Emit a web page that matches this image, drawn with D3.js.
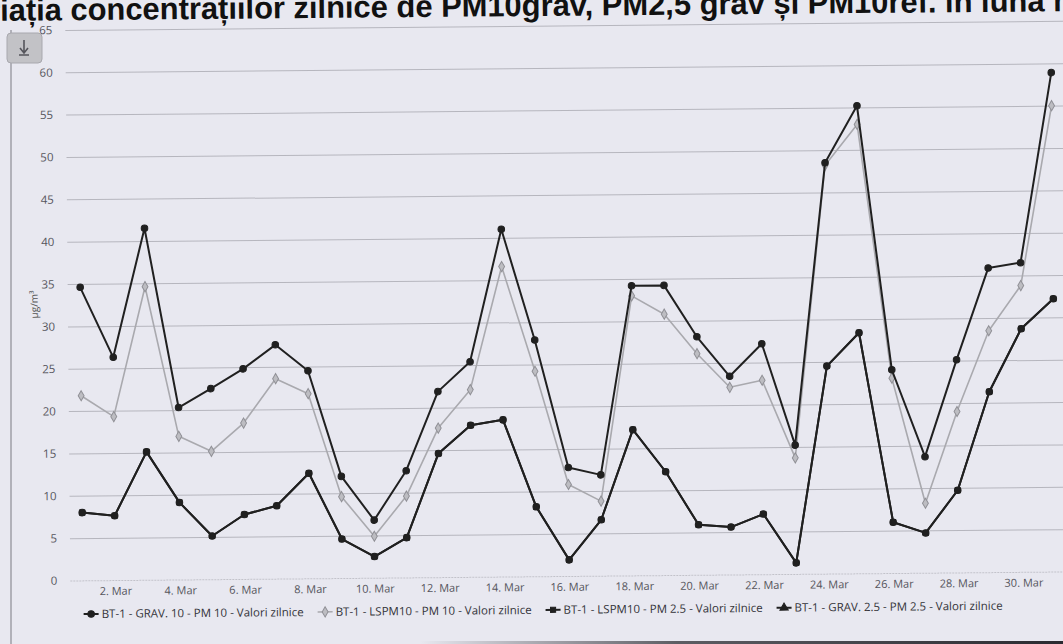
<!DOCTYPE html>
<html><head><meta charset="utf-8">
<script src="https://cdn.jsdelivr.net/npm/d3@7/dist/d3.min.js"></script>
<style>
html,body{margin:0;padding:0;background:#e8e8f0;overflow:hidden}
svg{display:block}
</style>
</head><body>
<svg id="c" width="1063" height="644"></svg>
<script>
// ---------- data ----------
const titleText = "Variația concentrațiilor zilnice de PM10grav, PM2,5 grav și PM10ref. în luna martie";
const yTitle = "µg/m³";
const days = [1,2,3,4,5,6,7,8,9,10,11,12,13,14,15,16,17,18,19,20,21,22,23,24,25,26,27,28,29,30,31];
const tickDays = [2,4,6,8,10,12,14,16,18,20,22,24,26,28,30];
const tickLabels = ["2. Mar","4. Mar","6. Mar","8. Mar","10. Mar","12. Mar","14. Mar","16. Mar","18. Mar","20. Mar","22. Mar","24. Mar","26. Mar","28. Mar","30. Mar"];
const yTicks = [0,5,10,15,20,25,30,35,40,45,50,55,60,65];
const seriesNames = [
  "BT-1 - GRAV. 10 - PM 10 - Valori zilnice",
  "BT-1 - LSPM10 - PM 10 - Valori zilnice",
  "BT-1 - LSPM10 - PM 2.5 - Valori zilnice",
  "BT-1 - GRAV. 2.5 - PM 2.5 - Valori zilnice"
];
const grav10 = [34.6,26.3,41.5,20.3,22.5,24.8,27.6,24.5,12.0,6.8,12.6,21.9,25.4,41.0,27.9,12.8,11.9,34.2,34.2,28.1,23.4,27.2,15.2,48.5,55.2,24.0,13.7,25.1,35.9,36.5,58.9];
const lspm10pm10 = [21.8,19.3,34.6,16.9,15.1,18.4,23.6,21.8,9.6,4.9,9.6,17.6,22.1,36.6,24.2,10.8,8.8,33.0,30.8,26.1,22.1,22.9,13.7,48.2,53.0,23.0,8.2,19.0,28.5,33.8,55.0];
const lspm10pm25 = [8.0,7.6,15.1,9.1,5.1,7.6,8.6,12.4,4.6,2.5,4.7,14.6,17.9,18.5,8.2,1.9,6.6,17.2,12.2,5.9,5.6,7.1,1.3,24.5,28.4,6.0,4.7,9.7,21.3,28.7,32.2];
const grav25 = [8.0,7.6,15.1,9.1,5.1,7.6,8.6,12.4,4.6,2.5,4.7,14.6,17.9,18.5,8.2,1.9,6.6,17.2,12.2,5.9,5.6,7.1,1.3,24.5,28.4,6.0,4.7,9.7,21.3,28.7,32.2];

// ---------- drawing ----------
const W = 1063, H = 644;
const svg = d3.select("#c");
svg.append("rect").attr("width",W).attr("height",H).attr("fill","#e8e8f0");

const g = svg.append("g").attr("transform","rotate(-0.52 531.5 322)");

const x = d3.scaleLinear().domain([1,31]).range([80.5,1053.5]);
const y = d3.scaleLinear().domain([0,65]).range([576.3,25.7]);

// title (partially cut by page edge, as in the scanned source)
const title = g.append("text")
  .attr("font-family","'Liberation Sans', Arial, sans-serif")
  .attr("font-weight","bold").attr("font-size",24).attr("fill","#111")
  .attr("y",16).text(titleText);
(function(){
  const tmp = g.append("text").attr("font-family","'Liberation Sans', Arial, sans-serif")
    .attr("font-weight","bold").attr("font-size",24);
  tmp.text("Var"); const wVar = tmp.node().getComputedTextLength();
  tmp.text("iația concentrațiilor zilnice de PM10grav, PM2,5 grav și PM10ref. în luna");
  const wMain = tmp.node().getComputedTextLength();
  tmp.remove();
  const s = (1048-3)/wMain;
  title.attr("font-size",24*s).attr("x",3 - wVar*s);
})();

// y axis with gridlines
const yAxis = g.append("g").attr("transform","translate(68,0)")
  .call(d3.axisLeft(y).tickValues(yTicks).tickSize(-(W-68+30)).tickPadding(13));
yAxis.select(".domain").remove();
yAxis.selectAll(".tick line").attr("stroke","#b6b6be").attr("stroke-width",1)
  .filter(d=>d===0).attr("stroke","#c2c2ca").attr("stroke-dasharray","2,1");
yAxis.selectAll(".tick text").attr("fill","#55555c")
  .attr("font-family","'Open Sans', sans-serif").attr("font-size",11.5);

// y title
g.append("text").attr("transform","translate(38,300) rotate(-90)")
  .attr("text-anchor","middle").attr("font-family","'Open Sans', sans-serif")
  .attr("font-size",10).attr("fill","#555").text(yTitle);

// x axis labels
const xAxis = g.append("g").attr("transform",`translate(0,${y(0)})`)
  .call(d3.axisBottom(x).tickValues(tickDays).tickFormat((d,i)=>tickLabels[i]).tickSize(0).tickPadding(7));
xAxis.select(".domain").remove();
xAxis.selectAll(".tick text").attr("fill","#55555c")
  .attr("font-family","'Open Sans', sans-serif").attr("font-size",11);

// series
const styles = [
  {data:grav10, color:"#202020", width:2, marker:"circle", mfill:"#202020", mstroke:"#202020"},
  {data:lspm10pm10, color:"#a9a9ae", width:1.6, marker:"diamond", mfill:"#bdbdc2", mstroke:"#909096"},
  {data:lspm10pm25, color:"#202020", width:2, marker:"square", mfill:"#202020", mstroke:"#202020"},
  {data:grav25, color:"#202020", width:2, marker:"circle", mfill:"#202020", mstroke:"#202020"}
];
const symType = {circle:d3.symbolCircle, diamond:d3.symbolDiamond, square:d3.symbolSquare, triangle:d3.symbolTriangle};
const symSize = {circle:34, diamond:30, square:26, triangle:30};
const line = d3.line().x((d,i)=>x(days[i])).y(d=>y(d));

[3,2,1,0].forEach(k=>{
  const s = styles[k];
  const sg = g.append("g");
  sg.append("path").datum(s.data).attr("d",line).attr("fill","none")
    .attr("stroke",s.color).attr("stroke-width",s.width).attr("stroke-linejoin","round");
  sg.selectAll("path.m").data(s.data).join("path").attr("class","m")
    .attr("transform",(d,i)=>`translate(${x(days[i])},${y(d)})`)
    .attr("d",d3.symbol(symType[s.marker],symSize[s.marker]))
    .attr("fill",s.mfill).attr("stroke",s.mstroke).attr("stroke-width",1);
});

// legend
const legMarkers = ["circle","diamond","square","triangle"];
const lg = g.append("g").attr("font-family","'Open Sans', sans-serif").attr("font-size",11.5).attr("fill","#333338");
let lx = 81;
const ly = 614;
seriesNames.forEach((name,k)=>{
  const s = styles[k];
  lg.append("line").attr("x1",lx).attr("x2",lx+15).attr("y1",ly-4).attr("y2",ly-4)
    .attr("stroke",s.color).attr("stroke-width",s.width);
  lg.append("path").attr("transform",`translate(${lx+7.5},${ly-4})`)
    .attr("d",d3.symbol(symType[legMarkers[k]],symSize[legMarkers[k]]))
    .attr("fill",s.mfill).attr("stroke",s.mstroke);
  const t = lg.append("text").attr("x",lx+18).attr("y",ly).text(name);
  lx = lx + 18 + t.node().getComputedTextLength() + 14;
});

// page/scan details outside rotated group
svg.append("line").attr("x1",11).attr("x2",11).attr("y1",30).attr("y2",H)
  .attr("stroke","#8c8c94").attr("stroke-width",1.2);
const btn = svg.append("g");
btn.append("rect").attr("x",7).attr("y",33).attr("width",35).attr("height",30).attr("rx",4)
  .attr("fill","#c2c2c6").attr("stroke","#a8a8ae");
btn.append("path").attr("d","M24 40 L24 52 M20 48 L24 53 L28 48 M19 55 L29 55")
  .attr("stroke","#55555c").attr("stroke-width",1.6).attr("fill","none");

const grad = svg.append("defs").append("linearGradient").attr("id","bg1").attr("x1","0").attr("x2","1");
grad.append("stop").attr("offset","0").attr("stop-color","#3a3a40").attr("stop-opacity",0);
grad.append("stop").attr("offset","0.4").attr("stop-color","#3a3a40").attr("stop-opacity",0.8);
grad.append("stop").attr("offset","1").attr("stop-color","#2a2a30").attr("stop-opacity",1);
svg.append("rect").attr("x",420).attr("y",641).attr("width",W-420).attr("height",3).attr("fill","url(#bg1)");
</script>
</body></html>
